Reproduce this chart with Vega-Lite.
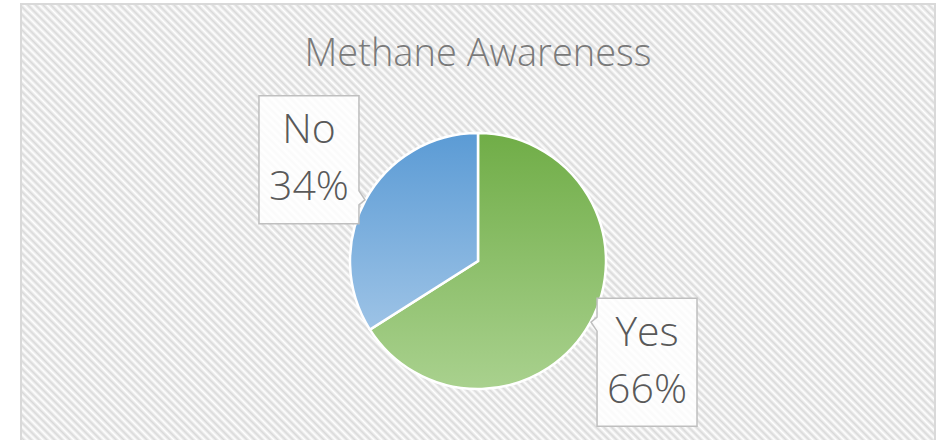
{
  "$schema": "https://vega.github.io/schema/vega-lite/v6.json",
  "width": 914,
  "height": 514,
  "autosize": "none",
  "padding": {"left": 21, "top": 4, "right": 13, "bottom": 0},
  "background": "#ffffff",
  "config": {"view": {"stroke": null}},
  "title": {"text": "Methane Awareness", "font": "Open Sans", "fontSize": 38, "fontWeight": 300, "color": "#7a7a7a", "anchor": "middle", "frame": "group", "offset": -101, "baseline": "alphabetic"},
  "data": {"values": [
    {"answer": "Yes", "percent": 66, "order": 1},
    {"answer": "No", "percent": 34, "order": 2}
  ]},
  "transform": [
    {"calculate": "datum.answer + '\\n' + datum.percent + '%'", "as": "label"},
    {"window": [{"op": "sum", "field": "percent", "as": "cum"}], "sort": [{"field": "order"}], "frame": [null, 0]},
    {"joinaggregate": [{"op": "sum", "field": "percent", "as": "total"}]},
    {"calculate": "2 * PI * (datum.cum - datum.percent / 2) / datum.total + 0.0367", "as": "mid"},
    {"calculate": "sin(datum.mid)", "as": "px"},
    {"calculate": "cos(datum.mid)", "as": "py"}
  ],
  "layer": [
    {
      "mark": {"type": "rect", "stroke": "#d9d9d9", "strokeWidth": 2,
        "fill": {"gradient": "linear", "x1": 0, "y1": 1, "x2": 1.28008, "y2": 0.28013, "stops": [
{"offset":0,"color":"#fff"},{"offset":0.0025,"color":"#d9d9d9"},{"offset":0.005,"color":"#fff"},{"offset":0.0075,"color":"#d9d9d9"},
{"offset":0.01,"color":"#fff"},{"offset":0.0125,"color":"#d9d9d9"},{"offset":0.015,"color":"#fff"},{"offset":0.0175,"color":"#d9d9d9"},
{"offset":0.02,"color":"#fff"},{"offset":0.0225,"color":"#d9d9d9"},{"offset":0.025,"color":"#fff"},{"offset":0.0275,"color":"#d9d9d9"},
{"offset":0.03,"color":"#fff"},{"offset":0.0325,"color":"#d9d9d9"},{"offset":0.035,"color":"#fff"},{"offset":0.0375,"color":"#d9d9d9"},
{"offset":0.04,"color":"#fff"},{"offset":0.0425,"color":"#d9d9d9"},{"offset":0.045,"color":"#fff"},{"offset":0.0475,"color":"#d9d9d9"},
{"offset":0.05,"color":"#fff"},{"offset":0.0525,"color":"#d9d9d9"},{"offset":0.055,"color":"#fff"},{"offset":0.0575,"color":"#d9d9d9"},
{"offset":0.06,"color":"#fff"},{"offset":0.0625,"color":"#d9d9d9"},{"offset":0.065,"color":"#fff"},{"offset":0.0675,"color":"#d9d9d9"},
{"offset":0.07,"color":"#fff"},{"offset":0.0725,"color":"#d9d9d9"},{"offset":0.075,"color":"#fff"},{"offset":0.0775,"color":"#d9d9d9"},
{"offset":0.08,"color":"#fff"},{"offset":0.0825,"color":"#d9d9d9"},{"offset":0.085,"color":"#fff"},{"offset":0.0875,"color":"#d9d9d9"},
{"offset":0.09,"color":"#fff"},{"offset":0.0925,"color":"#d9d9d9"},{"offset":0.095,"color":"#fff"},{"offset":0.0975,"color":"#d9d9d9"},
{"offset":0.1,"color":"#fff"},{"offset":0.1025,"color":"#d9d9d9"},{"offset":0.105,"color":"#fff"},{"offset":0.1075,"color":"#d9d9d9"},
{"offset":0.11,"color":"#fff"},{"offset":0.1125,"color":"#d9d9d9"},{"offset":0.115,"color":"#fff"},{"offset":0.1175,"color":"#d9d9d9"},
{"offset":0.12,"color":"#fff"},{"offset":0.1225,"color":"#d9d9d9"},{"offset":0.125,"color":"#fff"},{"offset":0.1275,"color":"#d9d9d9"},
{"offset":0.13,"color":"#fff"},{"offset":0.1325,"color":"#d9d9d9"},{"offset":0.135,"color":"#fff"},{"offset":0.1375,"color":"#d9d9d9"},
{"offset":0.14,"color":"#fff"},{"offset":0.1425,"color":"#d9d9d9"},{"offset":0.145,"color":"#fff"},{"offset":0.1475,"color":"#d9d9d9"},
{"offset":0.15,"color":"#fff"},{"offset":0.1525,"color":"#d9d9d9"},{"offset":0.155,"color":"#fff"},{"offset":0.1575,"color":"#d9d9d9"},
{"offset":0.16,"color":"#fff"},{"offset":0.1625,"color":"#d9d9d9"},{"offset":0.165,"color":"#fff"},{"offset":0.1675,"color":"#d9d9d9"},
{"offset":0.17,"color":"#fff"},{"offset":0.1725,"color":"#d9d9d9"},{"offset":0.175,"color":"#fff"},{"offset":0.1775,"color":"#d9d9d9"},
{"offset":0.18,"color":"#fff"},{"offset":0.1825,"color":"#d9d9d9"},{"offset":0.185,"color":"#fff"},{"offset":0.1875,"color":"#d9d9d9"},
{"offset":0.19,"color":"#fff"},{"offset":0.1925,"color":"#d9d9d9"},{"offset":0.195,"color":"#fff"},{"offset":0.1975,"color":"#d9d9d9"},
{"offset":0.2,"color":"#fff"},{"offset":0.2025,"color":"#d9d9d9"},{"offset":0.205,"color":"#fff"},{"offset":0.2075,"color":"#d9d9d9"},
{"offset":0.21,"color":"#fff"},{"offset":0.2125,"color":"#d9d9d9"},{"offset":0.215,"color":"#fff"},{"offset":0.2175,"color":"#d9d9d9"},
{"offset":0.22,"color":"#fff"},{"offset":0.2225,"color":"#d9d9d9"},{"offset":0.225,"color":"#fff"},{"offset":0.2275,"color":"#d9d9d9"},
{"offset":0.23,"color":"#fff"},{"offset":0.2325,"color":"#d9d9d9"},{"offset":0.235,"color":"#fff"},{"offset":0.2375,"color":"#d9d9d9"},
{"offset":0.24,"color":"#fff"},{"offset":0.2425,"color":"#d9d9d9"},{"offset":0.245,"color":"#fff"},{"offset":0.2475,"color":"#d9d9d9"},
{"offset":0.25,"color":"#fff"},{"offset":0.2525,"color":"#d9d9d9"},{"offset":0.255,"color":"#fff"},{"offset":0.2575,"color":"#d9d9d9"},
{"offset":0.26,"color":"#fff"},{"offset":0.2625,"color":"#d9d9d9"},{"offset":0.265,"color":"#fff"},{"offset":0.2675,"color":"#d9d9d9"},
{"offset":0.27,"color":"#fff"},{"offset":0.2725,"color":"#d9d9d9"},{"offset":0.275,"color":"#fff"},{"offset":0.2775,"color":"#d9d9d9"},
{"offset":0.28,"color":"#fff"},{"offset":0.2825,"color":"#d9d9d9"},{"offset":0.285,"color":"#fff"},{"offset":0.2875,"color":"#d9d9d9"},
{"offset":0.29,"color":"#fff"},{"offset":0.2925,"color":"#d9d9d9"},{"offset":0.295,"color":"#fff"},{"offset":0.2975,"color":"#d9d9d9"},
{"offset":0.3,"color":"#fff"},{"offset":0.3025,"color":"#d9d9d9"},{"offset":0.305,"color":"#fff"},{"offset":0.3075,"color":"#d9d9d9"},
{"offset":0.31,"color":"#fff"},{"offset":0.3125,"color":"#d9d9d9"},{"offset":0.315,"color":"#fff"},{"offset":0.3175,"color":"#d9d9d9"},
{"offset":0.32,"color":"#fff"},{"offset":0.3225,"color":"#d9d9d9"},{"offset":0.325,"color":"#fff"},{"offset":0.3275,"color":"#d9d9d9"},
{"offset":0.33,"color":"#fff"},{"offset":0.3325,"color":"#d9d9d9"},{"offset":0.335,"color":"#fff"},{"offset":0.3375,"color":"#d9d9d9"},
{"offset":0.34,"color":"#fff"},{"offset":0.3425,"color":"#d9d9d9"},{"offset":0.345,"color":"#fff"},{"offset":0.3475,"color":"#d9d9d9"},
{"offset":0.35,"color":"#fff"},{"offset":0.3525,"color":"#d9d9d9"},{"offset":0.355,"color":"#fff"},{"offset":0.3575,"color":"#d9d9d9"},
{"offset":0.36,"color":"#fff"},{"offset":0.3625,"color":"#d9d9d9"},{"offset":0.365,"color":"#fff"},{"offset":0.3675,"color":"#d9d9d9"},
{"offset":0.37,"color":"#fff"},{"offset":0.3725,"color":"#d9d9d9"},{"offset":0.375,"color":"#fff"},{"offset":0.3775,"color":"#d9d9d9"},
{"offset":0.38,"color":"#fff"},{"offset":0.3825,"color":"#d9d9d9"},{"offset":0.385,"color":"#fff"},{"offset":0.3875,"color":"#d9d9d9"},
{"offset":0.39,"color":"#fff"},{"offset":0.3925,"color":"#d9d9d9"},{"offset":0.395,"color":"#fff"},{"offset":0.3975,"color":"#d9d9d9"},
{"offset":0.4,"color":"#fff"},{"offset":0.4025,"color":"#d9d9d9"},{"offset":0.405,"color":"#fff"},{"offset":0.4075,"color":"#d9d9d9"},
{"offset":0.41,"color":"#fff"},{"offset":0.4125,"color":"#d9d9d9"},{"offset":0.415,"color":"#fff"},{"offset":0.4175,"color":"#d9d9d9"},
{"offset":0.42,"color":"#fff"},{"offset":0.4225,"color":"#d9d9d9"},{"offset":0.425,"color":"#fff"},{"offset":0.4275,"color":"#d9d9d9"},
{"offset":0.43,"color":"#fff"},{"offset":0.4325,"color":"#d9d9d9"},{"offset":0.435,"color":"#fff"},{"offset":0.4375,"color":"#d9d9d9"},
{"offset":0.44,"color":"#fff"},{"offset":0.4425,"color":"#d9d9d9"},{"offset":0.445,"color":"#fff"},{"offset":0.4475,"color":"#d9d9d9"},
{"offset":0.45,"color":"#fff"},{"offset":0.4525,"color":"#d9d9d9"},{"offset":0.455,"color":"#fff"},{"offset":0.4575,"color":"#d9d9d9"},
{"offset":0.46,"color":"#fff"},{"offset":0.4625,"color":"#d9d9d9"},{"offset":0.465,"color":"#fff"},{"offset":0.4675,"color":"#d9d9d9"},
{"offset":0.47,"color":"#fff"},{"offset":0.4725,"color":"#d9d9d9"},{"offset":0.475,"color":"#fff"},{"offset":0.4775,"color":"#d9d9d9"},
{"offset":0.48,"color":"#fff"},{"offset":0.4825,"color":"#d9d9d9"},{"offset":0.485,"color":"#fff"},{"offset":0.4875,"color":"#d9d9d9"},
{"offset":0.49,"color":"#fff"},{"offset":0.4925,"color":"#d9d9d9"},{"offset":0.495,"color":"#fff"},{"offset":0.4975,"color":"#d9d9d9"},
{"offset":0.5,"color":"#fff"},{"offset":0.5025,"color":"#d9d9d9"},{"offset":0.505,"color":"#fff"},{"offset":0.5075,"color":"#d9d9d9"},
{"offset":0.51,"color":"#fff"},{"offset":0.5125,"color":"#d9d9d9"},{"offset":0.515,"color":"#fff"},{"offset":0.5175,"color":"#d9d9d9"},
{"offset":0.52,"color":"#fff"},{"offset":0.5225,"color":"#d9d9d9"},{"offset":0.525,"color":"#fff"},{"offset":0.5275,"color":"#d9d9d9"},
{"offset":0.53,"color":"#fff"},{"offset":0.5325,"color":"#d9d9d9"},{"offset":0.535,"color":"#fff"},{"offset":0.5375,"color":"#d9d9d9"},
{"offset":0.54,"color":"#fff"},{"offset":0.5425,"color":"#d9d9d9"},{"offset":0.545,"color":"#fff"},{"offset":0.5475,"color":"#d9d9d9"},
{"offset":0.55,"color":"#fff"},{"offset":0.5525,"color":"#d9d9d9"},{"offset":0.555,"color":"#fff"},{"offset":0.5575,"color":"#d9d9d9"},
{"offset":0.56,"color":"#fff"},{"offset":0.5625,"color":"#d9d9d9"},{"offset":0.565,"color":"#fff"},{"offset":0.5675,"color":"#d9d9d9"},
{"offset":0.57,"color":"#fff"},{"offset":0.5725,"color":"#d9d9d9"},{"offset":0.575,"color":"#fff"},{"offset":0.5775,"color":"#d9d9d9"},
{"offset":0.58,"color":"#fff"},{"offset":0.5825,"color":"#d9d9d9"},{"offset":0.585,"color":"#fff"},{"offset":0.5875,"color":"#d9d9d9"},
{"offset":0.59,"color":"#fff"},{"offset":0.5925,"color":"#d9d9d9"},{"offset":0.595,"color":"#fff"},{"offset":0.5975,"color":"#d9d9d9"},
{"offset":0.6,"color":"#fff"},{"offset":0.6025,"color":"#d9d9d9"},{"offset":0.605,"color":"#fff"},{"offset":0.6075,"color":"#d9d9d9"},
{"offset":0.61,"color":"#fff"},{"offset":0.6125,"color":"#d9d9d9"},{"offset":0.615,"color":"#fff"},{"offset":0.6175,"color":"#d9d9d9"},
{"offset":0.62,"color":"#fff"},{"offset":0.6225,"color":"#d9d9d9"},{"offset":0.625,"color":"#fff"},{"offset":0.6275,"color":"#d9d9d9"},
{"offset":0.63,"color":"#fff"},{"offset":0.6325,"color":"#d9d9d9"},{"offset":0.635,"color":"#fff"},{"offset":0.6375,"color":"#d9d9d9"},
{"offset":0.64,"color":"#fff"},{"offset":0.6425,"color":"#d9d9d9"},{"offset":0.645,"color":"#fff"},{"offset":0.6475,"color":"#d9d9d9"},
{"offset":0.65,"color":"#fff"},{"offset":0.6525,"color":"#d9d9d9"},{"offset":0.655,"color":"#fff"},{"offset":0.6575,"color":"#d9d9d9"},
{"offset":0.66,"color":"#fff"},{"offset":0.6625,"color":"#d9d9d9"},{"offset":0.665,"color":"#fff"},{"offset":0.6675,"color":"#d9d9d9"},
{"offset":0.67,"color":"#fff"},{"offset":0.6725,"color":"#d9d9d9"},{"offset":0.675,"color":"#fff"},{"offset":0.6775,"color":"#d9d9d9"},
{"offset":0.68,"color":"#fff"},{"offset":0.6825,"color":"#d9d9d9"},{"offset":0.685,"color":"#fff"},{"offset":0.6875,"color":"#d9d9d9"},
{"offset":0.69,"color":"#fff"},{"offset":0.6925,"color":"#d9d9d9"},{"offset":0.695,"color":"#fff"},{"offset":0.6975,"color":"#d9d9d9"},
{"offset":0.7,"color":"#fff"},{"offset":0.7025,"color":"#d9d9d9"},{"offset":0.705,"color":"#fff"},{"offset":0.7075,"color":"#d9d9d9"},
{"offset":0.71,"color":"#fff"},{"offset":0.7125,"color":"#d9d9d9"},{"offset":0.715,"color":"#fff"},{"offset":0.7175,"color":"#d9d9d9"},
{"offset":0.72,"color":"#fff"},{"offset":0.7225,"color":"#d9d9d9"},{"offset":0.725,"color":"#fff"},{"offset":0.7275,"color":"#d9d9d9"},
{"offset":0.73,"color":"#fff"},{"offset":0.7325,"color":"#d9d9d9"},{"offset":0.735,"color":"#fff"},{"offset":0.7375,"color":"#d9d9d9"},
{"offset":0.74,"color":"#fff"},{"offset":0.7425,"color":"#d9d9d9"},{"offset":0.745,"color":"#fff"},{"offset":0.7475,"color":"#d9d9d9"},
{"offset":0.75,"color":"#fff"},{"offset":0.7525,"color":"#d9d9d9"},{"offset":0.755,"color":"#fff"},{"offset":0.7575,"color":"#d9d9d9"},
{"offset":0.76,"color":"#fff"},{"offset":0.7625,"color":"#d9d9d9"},{"offset":0.765,"color":"#fff"},{"offset":0.7675,"color":"#d9d9d9"},
{"offset":0.77,"color":"#fff"},{"offset":0.7725,"color":"#d9d9d9"},{"offset":0.775,"color":"#fff"},{"offset":0.7775,"color":"#d9d9d9"},
{"offset":0.78,"color":"#fff"},{"offset":0.7825,"color":"#d9d9d9"},{"offset":0.785,"color":"#fff"},{"offset":0.7875,"color":"#d9d9d9"},
{"offset":0.79,"color":"#fff"},{"offset":0.7925,"color":"#d9d9d9"},{"offset":0.795,"color":"#fff"},{"offset":0.7975,"color":"#d9d9d9"},
{"offset":0.8,"color":"#fff"},{"offset":0.8025,"color":"#d9d9d9"},{"offset":0.805,"color":"#fff"},{"offset":0.8075,"color":"#d9d9d9"},
{"offset":0.81,"color":"#fff"},{"offset":0.8125,"color":"#d9d9d9"},{"offset":0.815,"color":"#fff"},{"offset":0.8175,"color":"#d9d9d9"},
{"offset":0.82,"color":"#fff"},{"offset":0.8225,"color":"#d9d9d9"},{"offset":0.825,"color":"#fff"},{"offset":0.8275,"color":"#d9d9d9"},
{"offset":0.83,"color":"#fff"},{"offset":0.8325,"color":"#d9d9d9"},{"offset":0.835,"color":"#fff"},{"offset":0.8375,"color":"#d9d9d9"},
{"offset":0.84,"color":"#fff"},{"offset":0.8425,"color":"#d9d9d9"},{"offset":0.845,"color":"#fff"},{"offset":0.8475,"color":"#d9d9d9"},
{"offset":0.85,"color":"#fff"},{"offset":0.8525,"color":"#d9d9d9"},{"offset":0.855,"color":"#fff"},{"offset":0.8575,"color":"#d9d9d9"},
{"offset":0.86,"color":"#fff"},{"offset":0.8625,"color":"#d9d9d9"},{"offset":0.865,"color":"#fff"},{"offset":0.8675,"color":"#d9d9d9"},
{"offset":0.87,"color":"#fff"},{"offset":0.8725,"color":"#d9d9d9"},{"offset":0.875,"color":"#fff"},{"offset":0.8775,"color":"#d9d9d9"},
{"offset":0.88,"color":"#fff"},{"offset":0.8825,"color":"#d9d9d9"},{"offset":0.885,"color":"#fff"},{"offset":0.8875,"color":"#d9d9d9"},
{"offset":0.89,"color":"#fff"},{"offset":0.8925,"color":"#d9d9d9"},{"offset":0.895,"color":"#fff"},{"offset":0.8975,"color":"#d9d9d9"},
{"offset":0.9,"color":"#fff"},{"offset":0.9025,"color":"#d9d9d9"},{"offset":0.905,"color":"#fff"},{"offset":0.9075,"color":"#d9d9d9"},
{"offset":0.91,"color":"#fff"},{"offset":0.9125,"color":"#d9d9d9"},{"offset":0.915,"color":"#fff"},{"offset":0.9175,"color":"#d9d9d9"},
{"offset":0.92,"color":"#fff"},{"offset":0.9225,"color":"#d9d9d9"},{"offset":0.925,"color":"#fff"},{"offset":0.9275,"color":"#d9d9d9"},
{"offset":0.93,"color":"#fff"}
        ]}
      },
      "encoding": {
        "x": {"datum": -2.3198, "type": "quantitative", "scale": {"domain": [-2.3198, 2.3198], "nice": false, "zero": false}, "axis": null},
        "x2": {"datum": 2.3198},
        "y": {"datum": -1.30457, "type": "quantitative", "scale": {"domain": [-1.30457, 1.30457], "nice": false, "zero": false}, "axis": null},
        "y2": {"datum": 1.30457}
      }
    },
    {
      "mark": {"type": "arc", "outerRadius": 128, "stroke": "#ffffff", "strokeWidth": 2.5},
      "encoding": {
        "theta": {"field": "percent", "type": "quantitative", "stack": true},
        "order": {"field": "order", "type": "quantitative"},
        "color": {
          "condition": {"test": "datum.answer === 'Yes'", "value": {"gradient": "linear", "x1": 0, "y1": 0, "x2": 0, "y2": 1, "stops": [{"offset": 0, "color": "#70ad47"}, {"offset": 1, "color": "#a9d18e"}]}},
          "value": {"gradient": "linear", "x1": 0, "y1": 0, "x2": 0, "y2": 1, "stops": [{"offset": 0, "color": "#5b9bd5"}, {"offset": 1, "color": "#9dc3e6"}]}
        }
      }
    },
    {
      "mark": {"type": "point", "filled": true, "fill": "#ffffff", "fillOpacity": 0.85, "stroke": "#bfbfbf", "strokeWidth": 1.5, "strokeOpacity": 1, "size": 19600, "opacity": 1},
      "encoding": {
        "x": {"field": "px", "type": "quantitative", "scale": {"domain": [-2.3198, 2.3198], "nice": false, "zero": false}, "axis": null},
        "y": {"field": "py", "type": "quantitative", "scale": {"domain": [-1.30457, 1.30457], "nice": false, "zero": false}, "axis": null},
        "shape": {
          "condition": {"test": "datum.answer === 'Yes'", "value": "M0.714,0.914L-0.714,0.914L-0.714,-0.443L-0.8,-0.571L-0.714,-0.643L-0.714,-0.914L0.714,-0.914Z"},
          "value": "M-0.714,-0.914L0.714,-0.914L0.714,0.443L0.8,0.571L0.714,0.643L0.714,0.914L-0.714,0.914Z"
        }
      }
    },
    {
      "mark": {"type": "text", "dy": -28.5, "font": "Open Sans", "fontSize": 41, "fontWeight": 300, "lineHeight": 57, "lineBreak": "\n", "color": "#595959", "align": "center", "baseline": "middle"},
      "encoding": {
        "x": {"field": "px", "type": "quantitative", "scale": {"domain": [-2.3198, 2.3198], "nice": false, "zero": false}, "axis": null},
        "y": {"field": "py", "type": "quantitative", "scale": {"domain": [-1.30457, 1.30457], "nice": false, "zero": false}, "axis": null},
        "text": {"field": "label", "type": "nominal"}
      }
    }
  ]
}
